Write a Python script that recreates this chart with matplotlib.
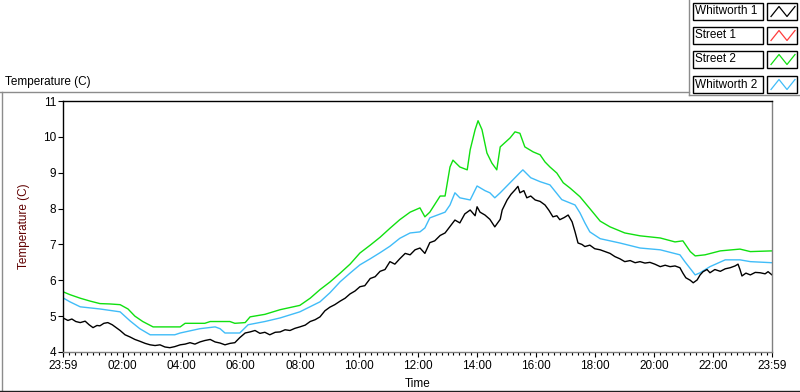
import matplotlib.pyplot as plt
from matplotlib.lines import Line2D
from matplotlib.patches import Rectangle
import numpy as np

plt.rcParams['font.family'] = ['Liberation Sans', 'DejaVu Sans']
plt.rcParams['font.size'] = 8

# legend entries (Street 1 has no visible trace)
series_names = ["Whitworth 1", "Street 1", "Street 2", "Whitworth 2"]
series_colors = ["#000000", "#FF3C3C", "#10E010", "#40BCF8"]

# minutes elapsed since 23:59
w1_min = [0, 10, 18, 26, 35, 45, 53, 61, 69, 75, 83, 91, 100, 106, 116, 126, 136, 146, 156, 167,
          177, 187, 197, 207, 217, 227, 238, 248, 258, 268, 278, 288, 299, 309, 319, 329, 339, 349,
          359, 370, 380, 390, 400, 410, 420, 431, 441, 451, 461, 471, 481, 492, 502, 512, 522, 532,
          542, 552, 563, 573, 583, 593, 603, 613, 624, 634, 644, 654, 664, 674, 684, 695, 705, 715,
          725, 735, 745, 755, 766, 776, 786, 796, 806, 816, 827, 837, 841, 847, 857, 867, 877, 888,
          892, 902, 910, 918, 924, 928, 936, 942, 950, 959, 969, 979, 987, 995, 1003, 1009, 1018,
          1026, 1034, 1040, 1046, 1054, 1060, 1070, 1080, 1091, 1101, 1111, 1121, 1131, 1141, 1152,
          1162, 1172, 1182, 1192, 1202, 1213, 1223, 1233, 1243, 1253, 1259, 1265, 1274, 1280, 1288,
          1294, 1300, 1308, 1314, 1324, 1335, 1345, 1355, 1365, 1371, 1375, 1379, 1387, 1396, 1406,
          1416, 1426, 1432, 1440]
w1_temp = [4.95, 4.88, 4.92, 4.85, 4.82, 4.86, 4.76, 4.68, 4.74, 4.73, 4.80, 4.82, 4.76, 4.70, 4.60,
           4.48, 4.42, 4.35, 4.30, 4.24, 4.20, 4.18, 4.20, 4.14, 4.12, 4.15, 4.20, 4.22, 4.26, 4.22,
           4.28, 4.32, 4.35, 4.28, 4.25, 4.20, 4.24, 4.26, 4.40, 4.53, 4.56, 4.60, 4.52, 4.55, 4.48,
           4.55, 4.56, 4.62, 4.60, 4.66, 4.70, 4.75, 4.85, 4.90, 4.98, 5.15, 5.25, 5.32, 5.42, 5.50,
           5.62, 5.70, 5.82, 5.85, 6.05, 6.10, 6.25, 6.30, 6.52, 6.45, 6.60, 6.75, 6.71, 6.85, 6.90,
           6.75, 7.05, 7.10, 7.25, 7.32, 7.50, 7.68, 7.60, 7.85, 7.96, 7.80, 8.05, 7.90, 7.82, 7.70,
           7.49, 7.70, 7.96, 8.24, 8.40, 8.52, 8.62, 8.44, 8.50, 8.30, 8.35, 8.24, 8.20, 8.10, 7.95,
           7.77, 7.80, 7.69, 7.75, 7.82, 7.63, 7.35, 7.04, 7.00, 6.94, 6.98, 6.88, 6.85, 6.80, 6.75,
           6.66, 6.60, 6.52, 6.55, 6.49, 6.52, 6.48, 6.50, 6.45, 6.38, 6.42, 6.38, 6.40, 6.35, 6.20,
           6.07, 6.00, 5.93, 6.01, 6.15, 6.24, 6.30, 6.21, 6.30, 6.25, 6.32, 6.35, 6.40, 6.45, 6.30,
           6.12, 6.20, 6.15, 6.22, 6.21, 6.18, 6.24, 6.15]

s2_min = [0, 14, 35, 55, 75, 95, 116, 132, 146, 162, 183, 207, 238, 248, 288, 299, 339, 349, 370,
          380, 410, 441, 481, 502, 522, 542, 563, 583, 603, 624, 644, 664, 684, 705, 725, 735, 745,
          766, 776, 786, 792, 806, 821, 827, 837, 843, 851, 861, 871, 881, 888, 908, 918, 928, 938,
          955, 969, 979, 989, 1003, 1016, 1030, 1050, 1070, 1091, 1111, 1141, 1172, 1213, 1243,
          1259, 1274, 1284, 1304, 1335, 1375, 1396, 1440]
s2_temp = [5.68, 5.60, 5.50, 5.42, 5.35, 5.34, 5.32, 5.20, 5.00, 4.85, 4.70, 4.70, 4.70, 4.80, 4.80,
           4.85, 4.85, 4.80, 4.82, 4.98, 5.05, 5.18, 5.30, 5.50, 5.74, 5.95, 6.20, 6.45, 6.76, 6.98,
           7.20, 7.45, 7.69, 7.90, 8.02, 7.77, 7.90, 8.35, 8.35, 9.16, 9.35, 9.16, 9.08, 9.64, 10.20,
           10.45, 10.20, 9.55, 9.27, 9.08, 9.72, 9.97, 10.14, 10.10, 9.72, 9.58, 9.50, 9.30, 9.16,
           8.99, 8.72, 8.57, 8.33, 8.00, 7.65, 7.49, 7.32, 7.24, 7.18, 7.07, 7.10, 6.80, 6.68, 6.71,
           6.82, 6.87, 6.80, 6.82]

w2_min = [0, 14, 35, 75, 116, 136, 156, 177, 227, 238, 278, 309, 319, 329, 359, 376, 410, 441, 481,
          522, 542, 563, 583, 603, 624, 644, 664, 684, 705, 725, 735, 745, 776, 786, 796, 806, 827,
          841, 857, 867, 877, 888, 908, 928, 934, 950, 969, 989, 1013, 1040, 1050, 1060, 1070, 1091,
          1131, 1172, 1213, 1253, 1263, 1284, 1294, 1314, 1345, 1375, 1396, 1440]
w2_temp = [5.51, 5.40, 5.26, 5.20, 5.12, 4.87, 4.65, 4.48, 4.48, 4.53, 4.65, 4.70, 4.65, 4.53, 4.53,
           4.76, 4.85, 4.95, 5.12, 5.40, 5.65, 5.96, 6.20, 6.43, 6.60, 6.77, 6.95, 7.17, 7.32, 7.35,
           7.46, 7.74, 7.90, 8.10, 8.44, 8.30, 8.24, 8.63, 8.50, 8.44, 8.30, 8.44, 8.72, 9.00, 9.08,
           8.86, 8.75, 8.66, 8.25, 8.10, 7.88, 7.60, 7.35, 7.16, 7.04, 6.90, 6.85, 6.71, 6.52, 6.15,
           6.21, 6.38, 6.57, 6.57, 6.52, 6.49]

tick_min = [0, 121, 241, 361, 481, 601, 721, 841, 961, 1081, 1201, 1321, 1440]
tick_labels = ["23:59", "02:00", "04:00", "06:00", "08:00", "10:00", "12:00",
               "14:00", "16:00", "18:00", "20:00", "22:00", "23:59"]


def fig_xy(x, y):
    return x / 800, 1 - y / 392


fig = plt.figure(figsize=(8, 3.92), dpi=100)
ax = fig.add_axes([63 / 800, 1 - 352 / 392, 709 / 800, 251 / 392])

ax.plot(w2_min, w2_temp, color=series_colors[3], lw=1.0)
ax.plot(s2_min, s2_temp, color=series_colors[2], lw=1.0)
ax.plot(w1_min, w1_temp, color=series_colors[0], lw=1.0)

ax.set_xlim(0, 1440)
ax.set_ylim(4, 11)
ax.set_yticks(range(4, 12))
ax.set_xticks(tick_min)
ax.set_xticklabels(tick_labels)
ax.set_xticks(np.arange(1, 1440, 12), minor=True)

ax.spines["left"].set_color("black")
ax.spines["top"].set_color("black")
ax.spines["right"].set_color("#808080")
ax.spines["bottom"].set_color("#808080")
for s in ax.spines.values():
    s.set_linewidth(1.0)

ax.tick_params(axis="y", direction="out", length=3.5, width=0.8, pad=1.5, labelsize=8.5)
ax.tick_params(axis="x", which="major", direction="out", length=3.8, width=0.8, pad=2, labelsize=8.5)
ax.tick_params(axis="x", which="minor", direction="out", length=2.2, width=0.8)

ax.set_xlabel("Time", fontsize=8.5)
ax.xaxis.set_label_coords(0.5, -0.105)
ax.set_ylabel("Temperature (C)", fontsize=8.5, color="#600000")
ax.yaxis.set_label_coords(-0.0465, 0.5)

# graph panel frame and caption
fig.add_artist(Line2D([0, 689 / 800], [1 - 92 / 392] * 2, color="#8c8c8c", lw=1.0))
fig.add_artist(Line2D([1.5 / 800] * 2, [1 - 92 / 392, 1 - 390 / 392], color="#8c8c8c", lw=1.0))
fig.add_artist(Line2D([0, 1], [1 - 390.5 / 392] * 2, color="#202020", lw=1.0))
fig.text(5 / 800, 1 - 82 / 392, "Temperature (C)", fontsize=8.5, va="center", ha="left")

# legend panel
fig.add_artist(Line2D([689 / 800] * 2, [1, 1 - 95 / 392], color="#8c8c8c", lw=1.0))
fig.add_artist(Line2D([689 / 800, 1], [1 - 95 / 392] * 2, color="#8c8c8c", lw=1.0))
row_y = [11.5, 35.5, 59.5, 84.5]
for name, col, yc in zip(series_names, series_colors, row_y):
    x0, y0 = fig_xy(692.5, yc + 8)
    fig.add_artist(Rectangle((x0, y0), 70 / 800, 16 / 392, transform=fig.transFigure,
                             facecolor="white", edgecolor="black", lw=1.0))
    fig.text(695 / 800, 1 - yc / 392, name, fontsize=8.5, va="center", ha="left")
    x1, y1 = fig_xy(767, yc + 8)
    fig.add_artist(Rectangle((x1, y1), 30 / 800, 16 / 392, transform=fig.transFigure,
                             facecolor="white", edgecolor="black", lw=1.0))
    zx = [771, 779, 787, 795]
    zy = [yc + 5, yc - 5, yc + 5, yc - 5]
    fig.add_artist(Line2D([v / 800 for v in zx], [1 - v / 392 for v in zy], color=col, lw=0.9))

fig.savefig("out.png", dpi=100)
